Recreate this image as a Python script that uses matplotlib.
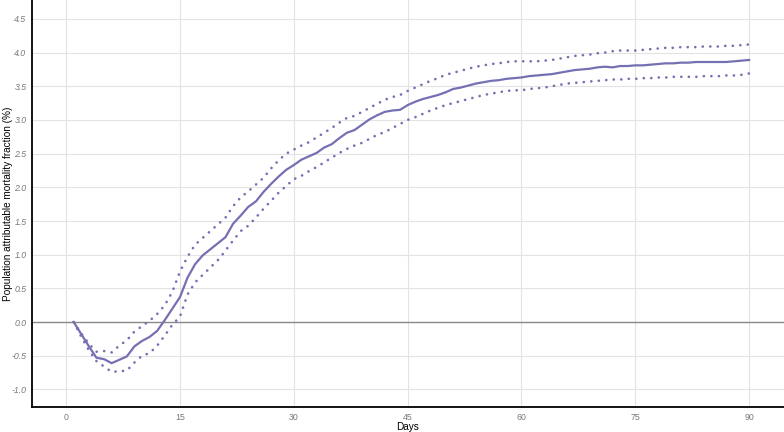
import matplotlib
matplotlib.use("Agg")
import matplotlib.pyplot as plt
import numpy as np

plt.rcParams['font.family'] = ['Liberation Sans', 'DejaVu Sans']

days = list(range(1, 91))

paf = [0.00, -0.18, -0.36, -0.53, -0.55, -0.61, -0.56, -0.51, -0.36, -0.28,
       -0.22, -0.13, 0.03, 0.20, 0.37, 0.66, 0.86, 0.99, 1.08, 1.17,
       1.26, 1.46, 1.58, 1.71, 1.79, 1.93, 2.05, 2.16, 2.26, 2.33,
       2.41, 2.46, 2.51, 2.59, 2.64, 2.73, 2.81, 2.85, 2.93, 3.01,
       3.07, 3.12, 3.14, 3.15, 3.22, 3.27, 3.31, 3.34, 3.37, 3.41,
       3.46, 3.48, 3.51, 3.54, 3.56, 3.58, 3.59, 3.61, 3.62, 3.63,
       3.65, 3.66, 3.67, 3.68, 3.70, 3.72, 3.74, 3.75, 3.76, 3.78,
       3.79, 3.78, 3.80, 3.80, 3.81, 3.81, 3.82, 3.83, 3.84, 3.84,
       3.85, 3.85, 3.86, 3.86, 3.86, 3.86, 3.86, 3.87, 3.88, 3.89]

paf_upper = [0.00, -0.17, -0.32, -0.44, -0.43, -0.45, -0.35, -0.27, -0.14, -0.06,
             0.02, 0.12, 0.25, 0.45, 0.75, 0.97, 1.15, 1.25, 1.35, 1.45,
             1.55, 1.72, 1.85, 1.94, 2.04, 2.14, 2.28, 2.40, 2.50, 2.56,
             2.62, 2.67, 2.74, 2.81, 2.88, 2.96, 3.03, 3.06, 3.12, 3.18,
             3.24, 3.30, 3.34, 3.37, 3.43, 3.48, 3.53, 3.58, 3.62, 3.67,
             3.70, 3.73, 3.76, 3.79, 3.81, 3.83, 3.84, 3.86, 3.87, 3.87,
             3.87, 3.87, 3.88, 3.89, 3.91, 3.93, 3.95, 3.96, 3.97, 3.99,
             4.00, 4.02, 4.03, 4.03, 4.03, 4.04, 4.05, 4.06, 4.07, 4.07,
             4.08, 4.08, 4.08, 4.09, 4.09, 4.09, 4.10, 4.10, 4.11, 4.12]

paf_lower = [0.00, -0.22, -0.42, -0.58, -0.66, -0.74, -0.73, -0.72, -0.60, -0.50,
             -0.46, -0.35, -0.20, -0.04, 0.08, 0.41, 0.59, 0.70, 0.81, 0.92,
             1.06, 1.21, 1.35, 1.43, 1.55, 1.68, 1.80, 1.92, 2.02, 2.12,
             2.17, 2.24, 2.30, 2.37, 2.44, 2.51, 2.57, 2.62, 2.66, 2.72,
             2.78, 2.82, 2.88, 2.94, 3.00, 3.04, 3.09, 3.14, 3.18, 3.22,
             3.25, 3.28, 3.31, 3.34, 3.37, 3.39, 3.41, 3.43, 3.44, 3.44,
             3.46, 3.47, 3.48, 3.50, 3.52, 3.54, 3.55, 3.56, 3.57, 3.58,
             3.59, 3.60, 3.60, 3.61, 3.61, 3.62, 3.62, 3.63, 3.63, 3.64,
             3.64, 3.64, 3.64, 3.65, 3.65, 3.65, 3.66, 3.66, 3.67, 3.69]

xticks = [0, 15, 30, 45, 60, 75, 90]
yticks = [-1.0, -0.5, 0.0, 0.5, 1.0, 1.5, 2.0, 2.5, 3.0, 3.5, 4.0, 4.5]

col = "#7570B3"
dotted = (0, (0.05, 2.8))

fig = plt.figure(figsize=(7.84, 4.32), dpi=100)
ax = fig.add_axes([0.0408, 0.0579, 0.9592, 0.9421])

ax.axhline(0, color="#8a8a8a", lw=1.0, zorder=1)
ax.plot(days, paf, color=col, lw=1.6, zorder=3)
ax.plot(days, paf_upper, color=col, lw=1.9, ls=dotted,
        dash_capstyle="round", zorder=3)
ax.plot(days, paf_lower, color=col, lw=1.9, ls=dotted,
        dash_capstyle="round", zorder=3)

ax.set_xlim(-4.5, 94.6)
ax.set_ylim(-1.26, 4.78)
ax.set_xticks(xticks)
ax.set_yticks(yticks)
ax.set_xticklabels([str(t) for t in xticks])
ax.set_yticklabels([f"{t:.1f}" for t in yticks], fontstyle="italic")
ax.tick_params(axis="both", length=0, labelsize=6.3, labelcolor="#7a7a7a")
ax.tick_params(axis="x", pad=4.5)
ax.tick_params(axis="y", pad=4)
ax.grid(True, color="#e3e3e3", lw=0.8, zorder=0)
ax.set_axisbelow(True)

for s in ["top", "right"]:
    ax.spines[s].set_visible(False)
ax.spines["left"].set_linewidth(1.3)
ax.spines["bottom"].set_linewidth(1.3)

ax.set_xlabel("Days", fontsize=7.2)
ax.xaxis.label.set_va("center")
ax.xaxis.set_label_coords(0.5, -0.049)
ax.set_ylabel("Population attributable mortality fraction (%)", fontsize=7.2)
ax.yaxis.label.set_va("center")
ax.yaxis.set_label_coords(-0.032, 0.5)

fig.savefig("out.png", dpi=100)
